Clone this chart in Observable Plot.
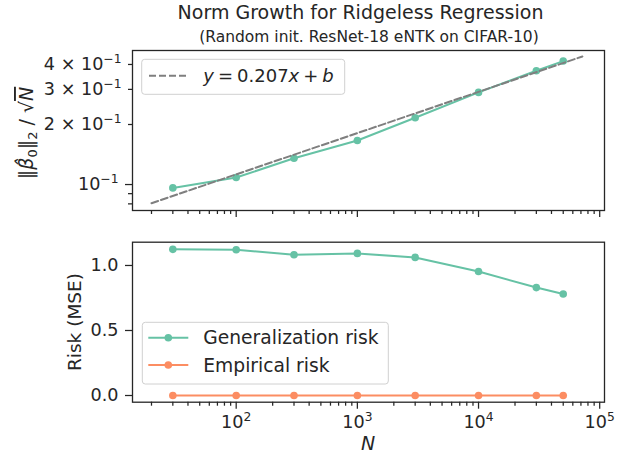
<!DOCTYPE html>
<html><head><meta charset="utf-8">
<script src="https://cdn.jsdelivr.net/npm/d3@7"></script>
<script src="https://cdn.jsdelivr.net/npm/@observablehq/plot@0.6"></script>
<style>
body{margin:0;background:#fff;font-family:"DejaVu Sans",sans-serif;color:#262626}
#wrap{position:relative;width:622px;height:455px;overflow:hidden;background:#fff}
#wrap svg{position:absolute;left:0}
</style></head><body>
<div id="wrap"></div>
<script>
// ---- data ----
const N = [30, 100, 300, 1000, 3000, 10000, 30000, 50000];
const normGrowth = [0.0962, 0.1084, 0.1355, 0.1663, 0.2163, 0.2898, 0.372, 0.416];
const generalizationRisk = [1.124, 1.121, 1.082, 1.093, 1.062, 0.954, 0.830, 0.781];
const empiricalRisk = [0, 0, 0, 0, 0, 0, 0, 0];
const fitN = [20, 72000];
const fitValue = [0.0806, 0.4387];
const fitSlope = "0.207";
const seriesNames = ["Generalization risk", "Empirical risk"];
const xMajorTicks = [100, 1000, 10000, 100000];
const xTickLabels = ["10²", "10³", "10⁴", "10⁵"];
const xMinorTicks = [20,30,40,50,60,70,80,90,200,300,400,500,600,700,800,900,2000,3000,4000,5000,6000,7000,8000,9000,20000,30000,40000,50000,60000,70000,80000,90000];
const topYMajorTicks = [0.1];
const topYMajorLabels = ["10⁻¹"];
const topYMinorLabeled = [0.2, 0.3, 0.4];
const topYMinorLabels = ["2 × 10⁻¹", "3 × 10⁻¹", "4 × 10⁻¹"];
const topYMinorTicks = [0.08, 0.09];
const bottomYTicks = [0, 0.5, 1.0];
const bottomYTickLabels = ["0.0", "0.5", "1.0"];
const titleText = "Norm Growth for Ridgeless Regression";
const subtitleText = "(Random init. ResNet-18 eNTK on CIFAR-10)";

const teal = "#66c2a5", orange = "#fc8d62", ink = "#262626";
const normData = N.map((n, i) => ({n, v: normGrowth[i]}));
const fitData = fitN.map((n, i) => ({n, v: fitValue[i]}));
const genData = N.map((n, i) => ({n, v: generalizationRisk[i]}));
const empData = N.map((n, i) => ({n, v: empiricalRisk[i]}));
const xDomain = [13.94, 109550];
const fmt = (ticks, labels) => d => labels[ticks.indexOf(d)] ?? "";
const FS = 17.6;
const style = {fontFamily: "DejaVu Sans", fontSize: FS + "px", color: ink, background: "transparent", overflow: "visible"};

const xAxes = (labels) => [
  Plot.axisX({ticks: xMinorTicks, tickSize: 4, tickFormat: () => "", label: null, strokeWidth: 1.25}),
  Plot.axisX({ticks: xMajorTicks, tickSize: 7, tickPadding: 6, tickFormat: labels ? fmt(xMajorTicks, xTickLabels) : () => "", label: null, strokeWidth: 1.25, fontSize: FS})
];

const topPlot = Plot.plot({
  width: 622, height: 225,
  marginTop: 50, marginBottom: 15, marginLeft: 132, marginRight: 18,
  style,
  x: {type: "log", domain: xDomain, axis: null},
  y: {type: "log", domain: [0.0741, 0.47], axis: null},
  marks: [
    ...xAxes(false),
    Plot.axisY({ticks: topYMinorTicks, tickSize: 4, tickFormat: () => "", label: null, strokeWidth: 1.25}),
    Plot.axisY({ticks: topYMinorLabeled, tickSize: 4, tickPadding: 7, tickFormat: fmt(topYMinorLabeled, topYMinorLabels), label: null, strokeWidth: 1.25, fontSize: FS}),
    Plot.axisY({ticks: topYMajorTicks, tickSize: 7, tickPadding: 7, tickFormat: fmt(topYMajorTicks, topYMajorLabels), label: null, strokeWidth: 1.25, fontSize: FS}),
    Plot.line(normData, {x: "n", y: "v", stroke: teal, strokeWidth: 2}),
    Plot.dot(normData, {x: "n", y: "v", fill: teal, r: 3.8}),
    Plot.line(fitData, {x: "n", y: "v", stroke: "#7f7f7f", strokeWidth: 2, strokeDasharray: "7,3"}),
    Plot.frame({stroke: ink, strokeWidth: 1.3})
  ]
});
topPlot.style.top = "0px";

const bottomPlot = Plot.plot({
  width: 622, height: 230,
  marginTop: 16.7, marginBottom: 53.3, marginLeft: 132, marginRight: 18,
  style,
  x: {type: "log", domain: xDomain, axis: null},
  y: {domain: [-0.0515, 1.179], axis: null},
  marks: [
    ...xAxes(true),
    Plot.axisY({ticks: bottomYTicks, tickSize: 7, tickPadding: 7, tickFormat: fmt(bottomYTicks, bottomYTickLabels), label: null, strokeWidth: 1.25, fontSize: FS}),
    Plot.line(genData, {x: "n", y: "v", stroke: teal, strokeWidth: 2}),
    Plot.dot(genData, {x: "n", y: "v", fill: teal, r: 3.8}),
    Plot.line(empData, {x: "n", y: "v", stroke: orange, strokeWidth: 2}),
    Plot.dot(empData, {x: "n", y: "v", fill: orange, r: 3.8}),
    Plot.frame({stroke: ink, strokeWidth: 1.3})
  ]
});
bottomPlot.style.top = "225px";

// render unicode superscripts as real raised text, like mathtext
const supMap = {"²": "2", "³": "3", "⁴": "4", "⁵": "5", "⁻": "−", "¹": "1"};
[topPlot, bottomPlot].forEach(svg => {
  svg.querySelectorAll("text").forEach(t => {
    const s = t.textContent;
    const i = [...s].findIndex(ch => ch in supMap);
    if (i < 0) return;
    const chars = [...s];
    const base = chars.slice(0, i).join("");
    const sup = chars.slice(i).map(ch => supMap[ch] ?? ch).join("");
    while (t.firstChild) t.removeChild(t.firstChild);
    const ns = "http://www.w3.org/2000/svg";
    const a = document.createElementNS(ns, "tspan"); a.textContent = base; t.appendChild(a);
    const b = document.createElementNS(ns, "tspan"); b.textContent = sup;
    b.setAttribute("font-size", (FS * 0.7).toFixed(1)); b.setAttribute("dy", "-7");
    t.appendChild(b);
  });
});

const wrap = document.getElementById("wrap");
wrap.appendChild(topPlot);
wrap.appendChild(bottomPlot);

// ---- overlay: titles, labels, legends ----
const ov = d3.select(wrap).append("svg")
  .attr("width", 622).attr("height", 455)
  .style("top", "0px").style("pointer-events", "none")
  .attr("font-family", "DejaVu Sans").attr("fill", ink);

ov.append("text").attr("x", 360.5).attr("y", 19).attr("text-anchor", "middle")
  .attr("font-size", 19).text(titleText);
ov.append("text").attr("x", 369).attr("y", 41.5).attr("text-anchor", "middle")
  .attr("font-size", 15.5).text(subtitleText);

// top y label: ||beta_hat_0||_2 / sqrt(N)
const yl = ov.append("text").attr("font-size", 19).attr("text-anchor", "middle")
  .attr("transform", "translate(33,133) rotate(-90)");
yl.append("tspan").text("‖");
yl.append("tspan").attr("font-style", "italic").text("β\u0302");
yl.append("tspan").attr("font-size", 13).attr("dy", 4).text("0");
yl.append("tspan").attr("dy", -4).text("‖");
yl.append("tspan").attr("font-size", 13).attr("dy", 4).text("2");
yl.append("tspan").attr("dy", -4).text(" / √");
yl.append("tspan").attr("font-style", "italic").style("text-decoration", "overline").text("N");

// bottom y label
ov.append("text").attr("font-size", 18.5).attr("text-anchor", "middle")
  .attr("transform", "translate(81,322) rotate(-90)").text("Risk (MSE)");

// x label
ov.append("text").attr("x", 368).attr("y", 450).attr("text-anchor", "middle")
  .attr("font-size", 19).attr("font-style", "italic").text("N");

// top legend
ov.append("rect").attr("x", 141.7).attr("y", 59.3).attr("width", 203).attr("height", 35)
  .attr("rx", 3).attr("fill", "white").attr("fill-opacity", 0.8).attr("stroke", "#d0d0d0").attr("stroke-width", 1);
ov.append("line").attr("x1", 149).attr("x2", 186.7).attr("y1", 75.7).attr("y2", 75.7)
  .attr("stroke", "#7f7f7f").attr("stroke-width", 2).attr("stroke-dasharray", "7,3");
const lt = ov.append("text").attr("x", 203.3).attr("y", 82).attr("font-size", 18);
lt.append("tspan").attr("font-style", "italic").text("y");
lt.append("tspan").attr("dx", 4).text("=");
lt.append("tspan").attr("dx", 4).text(fitSlope);
lt.append("tspan").attr("font-style", "italic").text("x");
lt.append("tspan").attr("dx", 4).text("+");
lt.append("tspan").attr("dx", 4).attr("font-style", "italic").text("b");

// bottom legend
ov.append("rect").attr("x", 142.3).attr("y", 322.3).attr("width", 246).attr("height", 61.7)
  .attr("rx", 3).attr("fill", "white").attr("fill-opacity", 0.8).attr("stroke", "#d0d0d0").attr("stroke-width", 1);
[[teal, 337.7], [orange, 365]].forEach(([c, y], i) => {
  ov.append("line").attr("x1", 148.3).attr("x2", 188.3).attr("y1", y).attr("y2", y)
    .attr("stroke", c).attr("stroke-width", 2);
  ov.append("circle").attr("cx", 168.3).attr("cy", y).attr("r", 3.8).attr("fill", c);
  ov.append("text").attr("x", 203.3).attr("y", y + 6.5).attr("font-size", 18.7).text(seriesNames[i]);
});
</script>
</body></html>
